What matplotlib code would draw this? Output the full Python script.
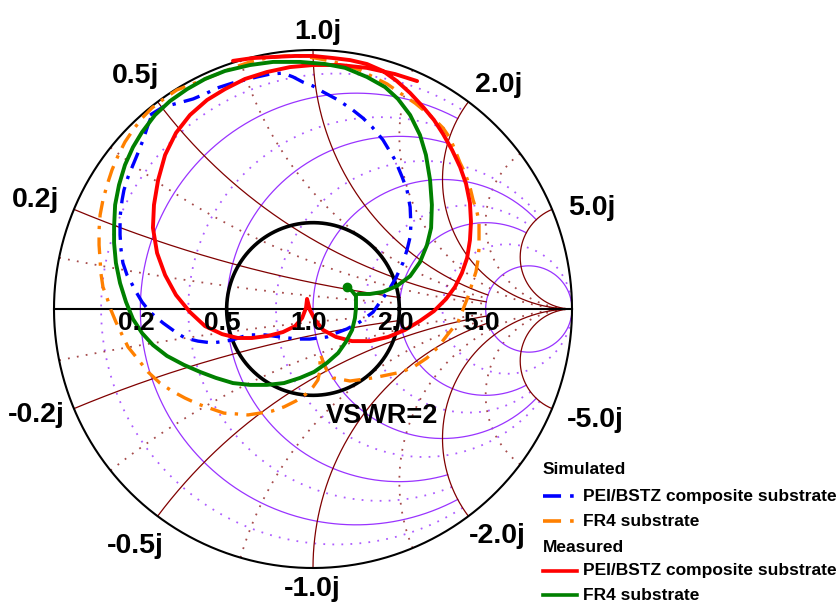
import numpy as np
import matplotlib
matplotlib.use("Agg")
import matplotlib.pyplot as plt
from matplotlib.lines import Line2D

plt.rcParams['font.family'] = ['Liberation Sans', 'DejaVu Sans']
plt.rcParams['font.weight'] = 'bold'

# reflection coefficient traces, real / imaginary parts
sim_bstz_re = [-0.629, -0.579, -0.521, -0.463, -0.409, -0.371, -0.309, -0.216, -0.166, -0.116,
               -0.077, -0.039, 0.000, 0.039, 0.097, 0.154, 0.193, 0.228, 0.270, 0.317, 0.344,
               0.363, 0.375, 0.378, 0.375, 0.363, 0.347, 0.320, 0.290, 0.259, 0.232, 0.181,
               0.131, 0.089, 0.054, -0.012, -0.062, -0.127, -0.185, -0.251, -0.313, -0.359,
               -0.390, -0.444, -0.494, -0.525, -0.579, -0.629, -0.660, -0.683, -0.703, -0.718,
               -0.734, -0.741, -0.745, -0.745, -0.737, -0.730, -0.714, -0.695, -0.676, -0.656,
               -0.637, -0.622]
sim_bstz_im = [0.749, 0.780, 0.795, 0.811, 0.834, 0.853, 0.873, 0.896, 0.907, 0.911, 0.896,
               0.876, 0.861, 0.838, 0.807, 0.768, 0.737, 0.703, 0.653, 0.575, 0.510, 0.459,
               0.394, 0.324, 0.278, 0.228, 0.178, 0.120, 0.069, 0.027, -0.012, -0.050, -0.077,
               -0.093, -0.108, -0.116, -0.116, -0.108, -0.100, -0.100, -0.120, -0.127, -0.131,
               -0.124, -0.112, -0.093, -0.054, -0.012, 0.027, 0.066, 0.104, 0.131, 0.178,
               0.228, 0.286, 0.355, 0.421, 0.459, 0.510, 0.556, 0.602, 0.653, 0.710, 0.749]

sim_fr4_re = [0.031, 0.039, 0.054, 0.077, 0.143, 0.232, 0.286, 0.344, 0.394, 0.440, 0.483,
              0.521, 0.560, 0.575, 0.598, 0.614, 0.629, 0.637, 0.641, 0.641, 0.641, 0.633,
              0.618, 0.606, 0.587, 0.568, 0.548, 0.529, 0.502, 0.471, 0.440, 0.394, 0.336,
              0.286, 0.232, 0.181, 0.124, 0.066, 0.008, -0.050, -0.108, -0.178, -0.243,
              -0.301, -0.359, -0.417, -0.475, -0.525, -0.571, -0.622, -0.660, -0.695, -0.726,
              -0.753, -0.776, -0.795, -0.811, -0.822, -0.826, -0.826, -0.822, -0.819, -0.811,
              -0.795, -0.780, -0.761, -0.737, -0.714, -0.680, -0.637, -0.591, -0.544, -0.494,
              -0.444, -0.390, -0.344, -0.297, -0.251, -0.205, -0.158, -0.112, -0.066, -0.027,
              0.000, 0.019, 0.027, 0.027]
sim_fr4_im = [-0.181, -0.205, -0.239, -0.266, -0.278, -0.266, -0.255, -0.243, -0.220, -0.189,
              -0.147, -0.097, -0.050, -0.012, 0.046, 0.097, 0.143, 0.189, 0.236, 0.286, 0.336,
              0.375, 0.421, 0.471, 0.525, 0.564, 0.614, 0.660, 0.699, 0.730, 0.757, 0.795,
              0.834, 0.869, 0.896, 0.923, 0.942, 0.958, 0.969, 0.977, 0.977, 0.969, 0.954,
              0.934, 0.911, 0.888, 0.865, 0.846, 0.815, 0.776, 0.737, 0.691, 0.645, 0.591,
              0.537, 0.479, 0.421, 0.363, 0.305, 0.247, 0.189, 0.139, 0.085, 0.042, -0.004,
              -0.050, -0.100, -0.147, -0.189, -0.243, -0.286, -0.317, -0.344, -0.367, -0.386,
              -0.402, -0.405, -0.409, -0.402, -0.394, -0.378, -0.355, -0.328, -0.301, -0.274,
              -0.236, -0.189]

meas_bstz_re = [-0.309, -0.232, -0.154, -0.069, 0.000, 0.077, 0.143, 0.208, 0.270, 0.324,
                0.375, 0.425, 0.467, 0.502, 0.537, 0.568, 0.591, 0.606, 0.610, 0.606, 0.595,
                0.575, 0.548, 0.514, 0.467, 0.413, 0.355, 0.290, 0.220, 0.151, 0.089, 0.039,
                0.008, -0.012, -0.023, -0.027, -0.042, -0.069, -0.116, -0.174, -0.236, -0.290,
                -0.351, -0.417, -0.475, -0.529, -0.571, -0.602, -0.618, -0.614, -0.598, -0.571,
                -0.529, -0.475, -0.409, -0.340, -0.263, -0.178, -0.089, 0.000, 0.104, 0.208,
                0.317, 0.402]
meas_bstz_im = [0.958, 0.969, 0.973, 0.977, 0.977, 0.969, 0.961, 0.946, 0.919, 0.880, 0.834,
                0.780, 0.730, 0.676, 0.614, 0.548, 0.483, 0.409, 0.336, 0.266, 0.197, 0.139,
                0.085, 0.039, -0.008, -0.046, -0.081, -0.108, -0.124, -0.124, -0.108, -0.081,
                -0.042, -0.004, 0.039, 0.004, -0.035, -0.066, -0.089, -0.104, -0.112, -0.112,
                -0.097, -0.066, -0.012, 0.054, 0.131, 0.216, 0.313, 0.402, 0.498, 0.595, 0.680,
                0.749, 0.807, 0.849, 0.888, 0.915, 0.934, 0.942, 0.942, 0.931, 0.907, 0.880]

meas_fr4_re = [0.131, 0.151, 0.166, 0.166, 0.162, 0.151, 0.127, 0.097, 0.054, 0.004, -0.050,
               -0.112, -0.178, -0.243, -0.309, -0.375, -0.436, -0.498, -0.564, -0.618, -0.660,
               -0.695, -0.722, -0.745, -0.761, -0.768, -0.768, -0.764, -0.749, -0.726, -0.695,
               -0.660, -0.610, -0.552, -0.486, -0.417, -0.340, -0.243, -0.154, -0.050, 0.046,
               0.124, 0.208, 0.278, 0.328, 0.375, 0.413, 0.436, 0.452, 0.459, 0.456, 0.440,
               0.413, 0.375, 0.324, 0.270, 0.220, 0.174]
meas_fr4_im = [0.085, 0.069, 0.050, 0.004, -0.035, -0.081, -0.127, -0.170, -0.208, -0.243,
               -0.266, -0.286, -0.293, -0.293, -0.286, -0.266, -0.243, -0.216, -0.181, -0.139,
               -0.093, -0.039, 0.027, 0.100, 0.178, 0.255, 0.317, 0.402, 0.479, 0.556, 0.625,
               0.683, 0.749, 0.803, 0.849, 0.888, 0.919, 0.942, 0.954, 0.954, 0.946, 0.931,
               0.896, 0.857, 0.811, 0.749, 0.672, 0.595, 0.498, 0.402, 0.313, 0.247, 0.181,
               0.127, 0.089, 0.066, 0.058, 0.058]

vswr = 2.0

# Smith grid: values and how far each line runs along the other family
r_major = [0.2, 0.5, 1.0, 2.0, 5.0]
r_major_span = [2, 2, 5, 5, np.inf]
x_major = [0.2, 0.5, 1.0, 2.0, 5.0]
x_major_span = [2, 5, 5, np.inf, np.inf]
r_minor = [0.1, 0.35, 0.75, 1.5, 3.0]
r_minor_span = [2, 2, 5, 5, np.inf]
x_minor = [0.1, 0.35, 0.75, 1.5, 3.0]
x_minor_span = [2, 5, 5, np.inf, np.inf]

r_labels = ['0.2', '0.5', '1.0', '2.0', '5.0']
x_labels = ['0.2j', '0.5j', '1.0j', '2.0j', '5.0j']
xn_labels = ['-0.2j', '-0.5j', '-1.0j', '-2.0j', '-5.0j']

PURPLE = '#9933ff'
BROWN = '#800000'


def gamma(z):
    return (z - 1) / (z + 1)


def r_circle(r, xmax, n=600):
    t = np.linspace(-np.arctan(xmax), np.arctan(xmax), n)
    g = gamma(r + 1j * np.tan(t))
    return g.real, g.imag


def x_arc(x, rmax, n=600):
    t = np.linspace(0, np.arctan(rmax), n)
    g = gamma(np.tan(t) + 1j * x)
    return g.real, g.imag


fig = plt.figure(figsize=(8.4, 6.05), dpi=100)
ax = fig.add_axes([0, 0, 1, 1])
cx, cy, R = 313, 309, 259
ax.set_xlim(-cx / R, (840 - cx) / R)
ax.set_ylim(-(605 - cy) / R, cy / R)
ax.axis('off')

dots = (0, (1, 4))
for r, span in zip(r_minor, r_minor_span):
    ax.plot(*r_circle(r, span), color=PURPLE, lw=1.3, ls=dots, alpha=0.8, zorder=1)
for x, span in zip(x_minor, x_minor_span):
    for s in (1, -1):
        ax.plot(*x_arc(s * x, span), color=BROWN, lw=1.3, ls=dots, alpha=0.7, zorder=1)

for r, span in zip(r_major, r_major_span):
    ax.plot(*r_circle(r, span), color=PURPLE, lw=0.9, zorder=2)
for x, span in zip(x_major, x_major_span):
    for s in (1, -1):
        ax.plot(*x_arc(s * x, span), color=BROWN, lw=0.9, zorder=2)

th = np.linspace(0, 2 * np.pi, 800)
ax.plot(np.cos(th), np.sin(th), color='black', lw=1.5, zorder=3)
ax.plot([-1, 1], [0, 0], color='black', lw=1.5, zorder=3)

# constant VSWR circle
rho = (vswr - 1) / (vswr + 1)
ax.plot(rho * np.cos(th), rho * np.sin(th), color='black', lw=2.6, zorder=4)
ax.annotate('VSWR=2', (rho, 0), xytext=(-12.5, -77), textcoords='offset points',
            fontsize=19.5, fontweight='bold', ha='center', va='center', zorder=6)

dashdot = (0, (5, 2.5, 1, 2.5))
ax.plot(sim_bstz_re, sim_bstz_im, color='#0000ff', lw=2.4, ls=dashdot, zorder=5)
ax.plot(sim_fr4_re, sim_fr4_im, color='#ff8000', lw=2.4, ls=dashdot, zorder=5)
ax.plot(meas_bstz_re, meas_bstz_im, color='#ff0000', lw=2.8, zorder=5,
        solid_capstyle='round', solid_joinstyle='round')
ax.plot(meas_fr4_re, meas_fr4_im, color='#008000', lw=2.8, zorder=5,
        solid_capstyle='round', solid_joinstyle='round')
ax.plot(meas_fr4_re[0], meas_fr4_im[0], 'o', color='#008000', ms=6, zorder=5)

# labels along the real axis
for r, lab in zip(r_major, r_labels):
    ax.annotate(lab, (gamma(r), 0), xytext=(-2.8, -10.3), textcoords='offset points',
                fontsize=19, fontweight='bold', ha='center', va='center', zorder=6)

# reactance labels round the rim (offsets in points)
pos_off = [(-27.4, 6.7), (-15.6, 18.9), (3.2, 13.3), (22.0, 12.1), (28.8, 1.3)]
neg_off = [(-27.4, -4.5), (-15.9, -21.5), (-0.7, -15.0), (20.6, -14.3), (31.0, -8.1)]
for x, lab, off in zip(x_major, x_labels, pos_off):
    g = gamma(1j * x)
    ax.annotate(lab, (g.real, g.imag), xytext=off, textcoords='offset points',
                fontsize=20.5, fontweight='bold', ha='center', va='center')
for x, lab, off in zip(x_major, xn_labels, neg_off):
    g = gamma(-1j * x)
    ax.annotate(lab, (g.real, g.imag), xytext=off, textcoords='offset points',
                fontsize=20.5, fontweight='bold', ha='center', va='center')


# legend drawn by hand in pixel positions
def fx(px):
    return px / 840


def fy(py):
    return 1 - py / 605


entries = [('Simulated', None, None), ('PEI/BSTZ composite substrate', '#0000ff', dashdot),
           ('FR4 substrate', '#ff8000', dashdot), ('Measured', None, None),
           ('PEI/BSTZ composite substrate', '#ff0000', '-'), ('FR4 substrate', '#008000', '-')]
rows = [470, 496, 521, 547, 571, 595]
for (lab, col, ls), py in zip(entries, rows):
    if col is None:
        fig.text(fx(543), fy(py), lab, fontsize=12.5, fontweight='bold', va='center', ha='left')
    else:
        fig.add_artist(Line2D([fx(543), fx(577)], [fy(py), fy(py)], color=col,
                              lw=2.6, ls=ls, transform=fig.transFigure))
        fig.text(fx(583), fy(py), lab, fontsize=12.5, fontweight='bold', va='center', ha='left')

fig.savefig('out.png', dpi=100)
